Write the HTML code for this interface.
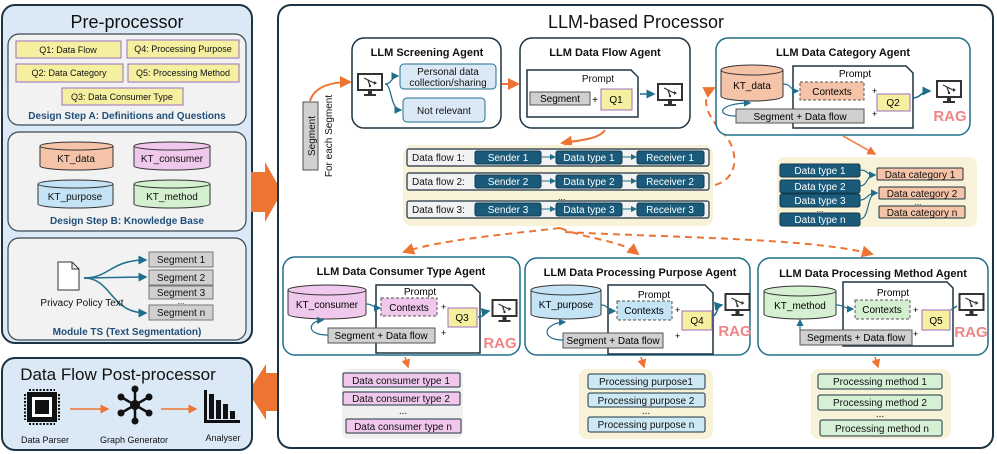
<!DOCTYPE html>
<html><head><meta charset="utf-8"><style>
html,body{margin:0;padding:0;background:#fff}
svg{display:block}
text{font-family:"Liberation Sans",Arial,sans-serif}
</style></head><body>
<svg width="997" height="454" viewBox="0 0 997 454" xmlns="http://www.w3.org/2000/svg">
<defs>
<marker id="ao" markerWidth="6" markerHeight="6" refX="5" refY="3" orient="auto"><path d="M0,0 L6,3 L0,6 z" fill="#ed7433"/></marker>
<marker id="ab" markerWidth="6" markerHeight="6" refX="5" refY="3" orient="auto"><path d="M0,0 L6,3 L0,6 z" fill="#1f6e8c"/></marker>
<symbol id="mon" viewBox="0 0 26 24"><rect x="1" y="1" width="24" height="16" fill="#fff" stroke="#333" stroke-width="2"/><path d="M7,5 l4,2 l2,6 M11,7 l6,3" stroke="#333" fill="none" stroke-width="1.2"/><circle cx="13" cy="13" r="1.2" fill="#333"/><path d="M17,8 l3,2 l-3,2z" fill="#333"/><rect x="11" y="17" width="4" height="4" fill="#333"/><rect x="7" y="21" width="12" height="2" fill="#333"/></symbol>
</defs>

<!-- PRE-PROCESSOR -->
<rect x="2" y="5" width="250" height="338" rx="13" fill="#dbe8f5" stroke="#1e3342" stroke-width="2"/>
<text x="127" y="28" font-size="18" text-anchor="middle" fill="#111">Pre-processor</text>
<rect x="8" y="34" width="238" height="91" rx="11" fill="#f2f2f2" stroke="#3b4a55" stroke-width="1.2"/>
<g font-size="9" text-anchor="middle" fill="#111">
<rect x="16" y="41" width="105" height="17" fill="#f5f0a0" stroke="#9b6fbf"/><text x="68" y="53">Q1: Data Flow</text>
<rect x="127" y="40" width="112" height="18" fill="#f5f0a0" stroke="#9b6fbf"/><text x="183" y="52">Q4: Processing Purpose</text>
<rect x="16" y="64" width="107" height="18" fill="#f5f0a0" stroke="#9b6fbf"/><text x="69" y="76">Q2: Data Category</text>
<rect x="128" y="64" width="111" height="18" fill="#f5f0a0" stroke="#9b6fbf"/><text x="183" y="76">Q5: Processing Method</text>
<rect x="62" y="88" width="121" height="17" fill="#f5f0a0" stroke="#9b6fbf"/><text x="122" y="100">Q3: Data Consumer Type</text>
</g>
<text x="127" y="119" font-size="10" font-weight="bold" text-anchor="middle" fill="#1f4e79">Design Step A: Definitions and Questions</text>
<rect x="8" y="132" width="238" height="99" rx="11" fill="#f2f2f2" stroke="#3b4a55" stroke-width="1.2"/>
<g stroke="#333" stroke-width="1">
<path d="M40,146 v20 a36.5,4 0 0 0 73,0 v-20" fill="#f5c4a8"/><ellipse cx="76.5" cy="146" rx="36.5" ry="4" fill="#f5c4a8"/>
<path d="M134,146 v20 a38,4 0 0 0 76,0 v-20" fill="#f0c8ec"/><ellipse cx="172" cy="146" rx="38" ry="4" fill="#f0c8ec"/>
<path d="M38,184 v20 a37.5,4 0 0 0 75,0 v-20" fill="#c4e4f5"/><ellipse cx="75.5" cy="184" rx="37.5" ry="4" fill="#c4e4f5"/>
<path d="M134,184 v20 a38,4 0 0 0 76,0 v-20" fill="#d5f0d0"/><ellipse cx="172" cy="184" rx="38" ry="4" fill="#d5f0d0"/>
</g>
<g font-size="10" text-anchor="middle" fill="#111"><text x="76" y="162">KT_data</text><text x="172" y="162">KT_consumer</text><text x="75" y="200">KT_purpose</text><text x="172" y="200">KT_method</text></g>
<text x="127" y="224" font-size="10" font-weight="bold" text-anchor="middle" fill="#1f4e79">Design Step B: Knowledge Base</text>
<rect x="8" y="238" width="238" height="102" rx="11" fill="#f2f2f2" stroke="#3b4a55" stroke-width="1.2"/>
<path d="M58,262 h14 l7,7 v21 h-21 z M72,262 v7 h7" fill="#fff" stroke="#333"/>
<g stroke="#1f6e8c" stroke-width="1.5" fill="none">
<path d="M84,278 C110,278 110,260 146,260" marker-end="url(#ab)"/>
<path d="M84,278 L146,277" marker-end="url(#ab)"/>
<path d="M84,278 C112,278 110,313 146,313" marker-end="url(#ab)"/>
</g>
<g font-size="10" text-anchor="middle" fill="#111">
<rect x="149" y="252" width="64" height="15" fill="#d0d0d0" stroke="#777"/><text x="181" y="263">Segment 1</text>
<rect x="149" y="270" width="64" height="15" fill="#d0d0d0" stroke="#777"/><text x="181" y="281">Segment 2</text>
<rect x="149" y="286" width="64" height="13" fill="#d0d0d0" stroke="#777"/><text x="181" y="296">Segment 3</text>
<text x="181" y="304" font-size="8">...</text>
<rect x="149" y="305" width="64" height="15" fill="#d0d0d0" stroke="#777"/><text x="181" y="316">Segment n</text>
<text x="82" y="306">Privacy Policy Text</text>
</g>
<text x="127" y="335" font-size="10" font-weight="bold" text-anchor="middle" fill="#1f4e79">Module TS (Text  Segmentation)</text>

<!-- big arrows -->
<path d="M251,172 h14 v-10 l17,30 l-17,30 v-10 h-14 z" fill="#ed7433"/>
<path d="M280,373 h-14 v-9 l-18,28 l18,28 v-9 h14 z" fill="#ed7433"/>

<!-- POST-PROCESSOR -->
<rect x="2" y="358" width="250" height="92" rx="13" fill="#dbe8f5" stroke="#1e3342" stroke-width="2"/>
<text x="118" y="380" font-size="17" text-anchor="middle" fill="#111">Data Flow Post-processor</text>
<g fill="#111">
<rect x="27" y="392" width="30" height="30" fill="#111"/><rect x="32" y="397" width="20" height="20" fill="#fff"/><rect x="35" y="400" width="14" height="14"/>
<path d="M29,390 h26 M29,424 h26 M25,394 v26 M59,394 v26" stroke="#111" stroke-width="2" stroke-dasharray="2,1.5"/>
</g>
<g stroke="#111" stroke-width="2.5"><path d="M135,389 L135,421 M121,397 L149,413 M121,413 L149,397"/></g>
<g fill="#111"><circle cx="135" cy="405" r="5"/><circle cx="135" cy="389" r="3.5"/><circle cx="135" cy="421" r="3.5"/><circle cx="121" cy="397" r="3.5"/><circle cx="149" cy="413" r="3.5"/><circle cx="121" cy="413" r="3.5"/><circle cx="149" cy="397" r="3.5"/></g>
<g fill="#111"><rect x="204" y="390" width="3" height="33"/><rect x="204" y="420" width="36" height="3"/><rect x="209" y="394" width="5" height="25"/><rect x="216" y="400" width="5" height="19"/><rect x="223" y="404" width="5" height="15"/><rect x="230" y="411" width="5" height="8"/></g>
<g stroke="#ed7433" stroke-width="1.5"><line x1="70" y1="409" x2="108" y2="409" marker-end="url(#ao)"/><line x1="161" y1="409" x2="196" y2="409" marker-end="url(#ao)"/></g>
<g font-size="9" text-anchor="middle" fill="#111"><text x="45" y="443">Data Parser</text><text x="134" y="443">Graph Generator</text><text x="223" y="441">Analyser</text></g>

<!-- MAIN -->
<rect x="278" y="5" width="715" height="443" rx="13" fill="#fff" stroke="#1e3342" stroke-width="2"/>
<text x="636" y="28" font-size="18" text-anchor="middle" fill="#111">LLM-based Processor</text>

<!-- segment vertical -->
<rect x="303" y="102" width="15" height="68" fill="#d0d0d0" stroke="#555"/>
<text transform="translate(315,136) rotate(-90)" font-size="10" text-anchor="middle" fill="#111">Segment</text>
<text transform="translate(332,136) rotate(-90)" font-size="10" text-anchor="middle" fill="#111">For each Segment</text>
<path d="M310,101 C315,85 335,82 350,82" stroke="#ed7433" stroke-width="2" fill="none" marker-end="url(#ao)"/>

<!-- screening -->
<rect x="352" y="38" width="149" height="90" rx="12" fill="#fff" stroke="#1e3342" stroke-width="1.5"/>
<text x="427" y="56" font-size="11" font-weight="bold" text-anchor="middle" fill="#111">LLM Screening Agent</text>
<use href="#mon" x="357" y="73" width="26" height="24"/>
<g stroke="#1f6e8c" stroke-width="1.3" fill="none"><path d="M385,84 C392,84 392,76 398,76" marker-end="url(#ab)"/><path d="M385,84 C392,84 390,110 401,110" marker-end="url(#ab)"/></g>
<rect x="400" y="64" width="96" height="25" rx="4" fill="#dbe8f5" stroke="#1f6e8c"/>
<text x="448" y="75" font-size="10" text-anchor="middle" fill="#111">Personal data</text><text x="448" y="86" font-size="10" text-anchor="middle" fill="#111">collection/sharing</text>
<rect x="403" y="98" width="82" height="24" rx="4" fill="#dbe8f5" stroke="#1f6e8c"/>
<text x="444" y="114" font-size="10" text-anchor="middle" fill="#111">Not relevant</text>
<line x1="502" y1="84" x2="518" y2="84" stroke="#ed7433" stroke-width="2" marker-end="url(#ao)"/>

<!-- data flow agent -->
<rect x="520" y="38" width="170" height="90" rx="12" fill="#fff" stroke="#1e3342" stroke-width="1.5"/>
<text x="605" y="56" font-size="11" font-weight="bold" text-anchor="middle" fill="#111">LLM Data Flow Agent</text>
<path d="M527,70 h104 l7,7 v40 h-111 z" fill="#fff" stroke="#1e3342" stroke-width="1.5"/>
<text x="598" y="82" font-size="10" text-anchor="middle" fill="#111">Prompt</text>
<rect x="530" y="92" width="60" height="13" fill="#d0d0d0" stroke="#555"/><text x="560" y="102" font-size="10" text-anchor="middle">Segment</text>
<text x="595" y="103" font-size="10" text-anchor="middle">+</text>
<rect x="601" y="89" width="31" height="21" fill="#f5f0a0" stroke="#9b6fbf"/><text x="616" y="103" font-size="10" text-anchor="middle">Q1</text>
<line x1="640" y1="94" x2="654" y2="94" stroke="#1f6e8c" stroke-width="1.5" marker-end="url(#ab)"/>
<use href="#mon" x="657" y="83" width="26" height="24"/>
<path d="M605,130 C600,138 585,140 562,143" stroke="#ed7433" stroke-width="2" fill="none" marker-end="url(#ao)"/>

<!-- data flow panel -->
<rect x="403" y="145" width="310" height="81" rx="9" fill="#f7f2d8"/>
<g font-size="10" fill="#111">
<rect x="407" y="149" width="302" height="17" rx="2" fill="#f2f2f2" stroke="#1e3342" stroke-width="1.2"/>
<rect x="407" y="173" width="302" height="17" rx="2" fill="#f2f2f2" stroke="#1e3342" stroke-width="1.2"/>
<rect x="407" y="201" width="302" height="17" rx="2" fill="#f2f2f2" stroke="#1e3342" stroke-width="1.2"/>
<text x="412" y="161">Data flow 1:</text><text x="412" y="185">Data flow 2:</text><text x="412" y="213">Data flow 3:</text>
<text x="558" y="200" font-size="9">...</text>
</g>
<g fill="#1a5a7a" stroke="#10384d">
<rect x="475" y="151" width="66" height="13" rx="2"/><rect x="556" y="151" width="66" height="13" rx="2"/><rect x="637" y="151" width="67" height="13" rx="2"/>
<rect x="475" y="175" width="66" height="13" rx="2"/><rect x="556" y="175" width="66" height="13" rx="2"/><rect x="637" y="175" width="67" height="13" rx="2"/>
<rect x="475" y="203" width="66" height="13" rx="2"/><rect x="556" y="203" width="66" height="13" rx="2"/><rect x="637" y="203" width="67" height="13" rx="2"/>
</g>
<g font-size="10" fill="#fff" text-anchor="middle">
<text x="508" y="161">Sender 1</text><text x="589" y="161">Data type 1</text><text x="670" y="161">Receiver 1</text>
<text x="508" y="185">Sender 2</text><text x="589" y="185">Data type 2</text><text x="670" y="185">Receiver 2</text>
<text x="508" y="213">Sender 3</text><text x="589" y="213">Data type 3</text><text x="670" y="213">Receiver 3</text>
</g>
<g stroke="#1f6e8c" stroke-width="1" marker-end="url(#ab)">
<line x1="541" y1="157" x2="555" y2="157"/><line x1="622" y1="157" x2="636" y2="157"/>
<line x1="541" y1="181" x2="555" y2="181"/><line x1="622" y1="181" x2="636" y2="181"/>
<line x1="541" y1="209" x2="555" y2="209"/><line x1="622" y1="209" x2="636" y2="209"/>
</g>
<path d="M715,185 C740,178 738,150 725,135 C705,115 700,95 714,88" stroke="#ed7433" stroke-width="2" stroke-dasharray="7,5" fill="none" marker-end="url(#ao)"/>

<!-- category agent -->
<rect x="716" y="38" width="254" height="97" rx="12" fill="#fff" stroke="#1f6e8c" stroke-width="1.5"/>
<text x="843" y="56" font-size="11" font-weight="bold" text-anchor="middle" fill="#111">LLM Data Category Agent</text>
<path d="M793,66 h113 l7,7 v55 h-120 z" fill="#fff" stroke="#1e3342" stroke-width="1.5"/>
<path d="M721,70 v26 a31,5 0 0 0 62,0 v-26" fill="#f5c4a8" stroke="#333"/><ellipse cx="752" cy="70" rx="31" ry="5" fill="#f5c4a8" stroke="#333"/>
<text x="752" y="89" font-size="10" text-anchor="middle">KT_data</text>
<text x="855" y="77" font-size="10" text-anchor="middle">Prompt</text>
<rect x="800" y="82" width="64" height="18" fill="#f5c4a8" stroke="#555" stroke-dasharray="3,2"/><text x="832" y="95" font-size="10" text-anchor="middle">Contexts</text>
<rect x="736" y="109" width="128" height="14" fill="#d0d0d0" stroke="#555"/><text x="800" y="120" font-size="10" text-anchor="middle">Segment + Data flow</text>
<text x="872" y="94" font-size="9">+</text><text x="872" y="117" font-size="9">+</text>
<rect x="877" y="94" width="33" height="17" fill="#f5f0a0" stroke="#9b6fbf"/><text x="893" y="106" font-size="10" text-anchor="middle">Q2</text>
<path d="M783,84 C792,84 790,91 798,91" stroke="#1f6e8c" fill="none" stroke-width="1.2" marker-end="url(#ab)"/>
<path d="M736,116 C715,116 718,103 750,103" stroke="#1f6e8c" fill="none" stroke-width="1.2" marker-end="url(#ab)"/>
<path d="M912,98 C922,98 920,91 930,91" stroke="#1f6e8c" fill="none" stroke-width="1.5" marker-end="url(#ab)"/>
<use href="#mon" x="935" y="80" width="28" height="24"/>
<text x="950" y="121" font-size="15" font-weight="bold" fill="#f08585" text-anchor="middle">RAG</text>
<line x1="843" y1="136" x2="875" y2="154" stroke="#ed7433" stroke-width="1.5" marker-end="url(#ao)"/>

<!-- category panel -->
<rect x="777" y="157" width="200" height="70" rx="8" fill="#f7f2d8"/>
<g fill="#1a5a7a" stroke="#10384d">
<rect x="780" y="164" width="80" height="13" rx="2"/><rect x="780" y="180" width="80" height="13" rx="2"/><rect x="780" y="194" width="80" height="13" rx="2"/><rect x="780" y="213" width="80" height="13" rx="2"/>
</g>
<g font-size="10" fill="#fff" text-anchor="middle"><text x="820" y="174">Data type 1</text><text x="820" y="190">Data type 2</text><text x="820" y="204">Data type 3</text><text x="820" y="223">Data type n</text></g>
<text x="820" y="212" font-size="8" text-anchor="middle">...</text>
<g fill="#f5c4a8" stroke="#1e3342"><rect x="877" y="168" width="86" height="12" rx="1"/><rect x="879" y="187" width="86" height="12" rx="1"/><rect x="879" y="206" width="86" height="12" rx="1"/></g>
<g font-size="10" text-anchor="middle" fill="#111"><text x="920" y="178">Data category 1</text><text x="922" y="197">Data category 2</text><text x="922" y="216">Data category n</text></g>
<text x="918" y="205" font-size="8" text-anchor="middle">...</text>
<g stroke="#1f6e8c" stroke-width="1.2" fill="none" marker-end="url(#ab)">
<path d="M860,170 C868,170 866,175 875,175"/><path d="M860,186 C868,186 866,175 875,175"/><path d="M860,200 C868,200 866,193 877,193"/><path d="M860,219 C870,219 866,193 877,193"/>
</g>

<!-- dashed to bottom agents -->
<g stroke="#ed7433" stroke-width="2" stroke-dasharray="7,5" fill="none">
<path d="M560,228 C500,235 440,240 404,252" marker-end="url(#ao)"/>
<path d="M560,228 C590,240 620,240 638,254" marker-end="url(#ao)"/>
<path d="M565,232 C680,238 810,238 872,254" marker-end="url(#ao)"/>
</g>

<!-- consumer agent -->
<rect x="283" y="257" width="237" height="98" rx="12" fill="#fff" stroke="#1f6e8c" stroke-width="1.5"/>
<text x="401" y="275" font-size="11" font-weight="bold" text-anchor="middle" fill="#111">LLM Data Consumer Type Agent</text>
<path d="M376,285 h96 l8,8 v60 h-104 z" fill="#fff" stroke="#1e3342" stroke-width="1.5"/>
<path d="M288,290 v24 a39,5 0 0 0 78,0 v-24" fill="#f0c8ec" stroke="#333"/><ellipse cx="327" cy="290" rx="39" ry="5" fill="#f0c8ec" stroke="#333"/>
<text x="327" y="308" font-size="10" text-anchor="middle">KT_consumer</text>
<text x="420" y="295" font-size="10" text-anchor="middle">Prompt</text>
<rect x="381" y="298" width="56" height="18" fill="#f0c8ec" stroke="#555" stroke-dasharray="3,2"/><text x="409" y="311" font-size="10" text-anchor="middle">Contexts</text>
<rect x="328" y="328" width="107" height="15" fill="#d0d0d0" stroke="#555"/><text x="381" y="339" font-size="10" text-anchor="middle">Segment + Data flow</text>
<text x="441" y="310" font-size="9">+</text><text x="441" y="336" font-size="9">+</text>
<rect x="448" y="308" width="29" height="19" fill="#f5f0a0" stroke="#9b6fbf"/><text x="462" y="321" font-size="10" text-anchor="middle">Q3</text>
<path d="M366,304 C374,304 372,308 380,308" stroke="#1f6e8c" fill="none" stroke-width="1.2" marker-end="url(#ab)"/>
<path d="M328,335 C305,335 308,321 323,320" stroke="#1f6e8c" fill="none" stroke-width="1.2" marker-end="url(#ab)"/>
<path d="M478,317 C485,317 484,312 489,311" stroke="#1f6e8c" fill="none" stroke-width="1.5" marker-end="url(#ab)"/>
<use href="#mon" x="491" y="299" width="27" height="24"/>
<text x="500" y="348" font-size="15" font-weight="bold" fill="#f08585" text-anchor="middle">RAG</text>
<line x1="405" y1="357" x2="408" y2="367" stroke="#ed7433" stroke-width="1.5" marker-end="url(#ao)"/>
<rect x="342" y="369" width="121" height="70" rx="7" fill="#f0f0f0"/>
<g fill="#f0c8ec" stroke="#1e3342"><rect x="343" y="373" width="117" height="14" rx="1"/><rect x="343" y="392" width="117" height="13" rx="1"/><rect x="346" y="419" width="115" height="14" rx="1"/></g>
<g font-size="10" text-anchor="middle" fill="#111"><text x="401" y="384">Data consumer type 1</text><text x="401" y="402">Data consumer type 2</text><text x="403" y="430">Data consumer type n</text><text x="403" y="414">...</text></g>

<!-- purpose agent -->
<rect x="525" y="258" width="225" height="97" rx="12" fill="#fff" stroke="#1f6e8c" stroke-width="1.5"/>
<text x="640" y="276" font-size="11" font-weight="bold" text-anchor="middle" fill="#111">LLM Data Processing Purpose Agent</text>
<path d="M608,285 h97 l8,8 v61 h-105 z" fill="#fff" stroke="#1e3342" stroke-width="1.5"/>
<path d="M531,290 v24 a35,5 0 0 0 70,0 v-24" fill="#c4e4f5" stroke="#333"/><ellipse cx="566" cy="290" rx="35" ry="5" fill="#c4e4f5" stroke="#333"/>
<text x="566" y="308" font-size="10" text-anchor="middle">KT_purpose</text>
<text x="654" y="298" font-size="10" text-anchor="middle">Prompt</text>
<rect x="617" y="301" width="55" height="19" fill="#c4e4f5" stroke="#555" stroke-dasharray="3,2"/><text x="644" y="314" font-size="10" text-anchor="middle">Contexts</text>
<rect x="563" y="333" width="100" height="15" fill="#d0d0d0" stroke="#555"/><text x="613" y="344" font-size="10" text-anchor="middle">Segment + Data flow</text>
<text x="675" y="313" font-size="9">+</text><text x="675" y="339" font-size="9">+</text>
<rect x="682" y="311" width="30" height="19" fill="#f5f0a0" stroke="#9b6fbf"/><text x="697" y="324" font-size="10" text-anchor="middle">Q4</text>
<path d="M601,305 C609,305 606,311 615,311" stroke="#1f6e8c" fill="none" stroke-width="1.2" marker-end="url(#ab)"/>
<path d="M563,340 C540,340 543,323 565,322" stroke="#1f6e8c" fill="none" stroke-width="1.2" marker-end="url(#ab)"/>
<path d="M712,316 C718,316 716,306 722,305" stroke="#1f6e8c" fill="none" stroke-width="1.5" marker-end="url(#ab)"/>
<use href="#mon" x="724" y="293" width="27" height="24"/>
<text x="735" y="336" font-size="15" font-weight="bold" fill="#f08585" text-anchor="middle">RAG</text>
<line x1="641" y1="357" x2="644" y2="367" stroke="#ed7433" stroke-width="1.5" marker-end="url(#ao)"/>
<rect x="579" y="369" width="134" height="70" rx="8" fill="#f7f2d8"/>
<g fill="#cde8f5" stroke="#1e3342"><rect x="588" y="374" width="117" height="15" rx="2"/><rect x="588" y="393" width="117" height="14" rx="2"/><rect x="588" y="417" width="117" height="15" rx="2"/></g>
<g font-size="10" text-anchor="middle" fill="#111"><text x="646" y="385">Processing purpose1</text><text x="646" y="404">Processing purpose 2</text><text x="646" y="428">Processing purpose n</text><text x="646" y="414">...</text></g>

<!-- method agent -->
<rect x="758" y="258" width="230" height="97" rx="12" fill="#fff" stroke="#1f6e8c" stroke-width="1.5"/>
<text x="873" y="277" font-size="11" font-weight="bold" text-anchor="middle" fill="#111">LLM Data Processing Method Agent</text>
<path d="M843,282 h104 l6,6 v58 h-110 z" fill="#fff" stroke="#1e3342" stroke-width="1.5"/>
<path d="M764,291 v23 a36,5 0 0 0 72,0 v-23" fill="#d5f0d0" stroke="#333"/><ellipse cx="800" cy="291" rx="36" ry="5" fill="#d5f0d0" stroke="#333"/>
<text x="800" y="309" font-size="10" text-anchor="middle">KT_method</text>
<text x="893" y="296" font-size="10" text-anchor="middle">Prompt</text>
<rect x="855" y="300" width="55" height="19" fill="#d5f0d0" stroke="#555" stroke-dasharray="3,2"/><text x="882" y="313" font-size="10" text-anchor="middle">Contexts</text>
<rect x="800" y="330" width="112" height="15" fill="#d0d0d0" stroke="#555"/><text x="856" y="341" font-size="10" text-anchor="middle">Segments + Data flow</text>
<text x="913" y="313" font-size="9">+</text><text x="913" y="337" font-size="9">+</text>
<rect x="922" y="310" width="28" height="20" fill="#f5f0a0" stroke="#9b6fbf"/><text x="936" y="324" font-size="10" text-anchor="middle">Q5</text>
<path d="M836,305 C845,305 844,309 853,309" stroke="#1f6e8c" fill="none" stroke-width="1.2" marker-end="url(#ab)"/>
<line x1="800" y1="330" x2="800" y2="320" stroke="#1f6e8c" stroke-width="1.2" marker-end="url(#ab)"/>
<line x1="951" y1="310" x2="957" y2="306" stroke="#1f6e8c" stroke-width="1.5"/>
<use href="#mon" x="958" y="293" width="27" height="24"/>
<text x="971" y="337" font-size="15" font-weight="bold" fill="#f08585" text-anchor="middle">RAG</text>
<line x1="875" y1="357" x2="878" y2="367" stroke="#ed7433" stroke-width="1.5" marker-end="url(#ao)"/>
<rect x="811" y="369" width="140" height="70" rx="8" fill="#f7f2d8"/>
<g fill="#d5f0d5" stroke="#1e3342"><rect x="818" y="374" width="124" height="15" rx="2"/><rect x="818" y="395" width="124" height="15" rx="2"/><rect x="820" y="420" width="122" height="16" rx="2"/></g>
<g font-size="10" text-anchor="middle" fill="#111"><text x="880" y="385">Processing method 1</text><text x="880" y="406">Processing method 2</text><text x="882" y="432">Processing method n</text><text x="880" y="417">...</text></g>
</svg>
</body></html>
